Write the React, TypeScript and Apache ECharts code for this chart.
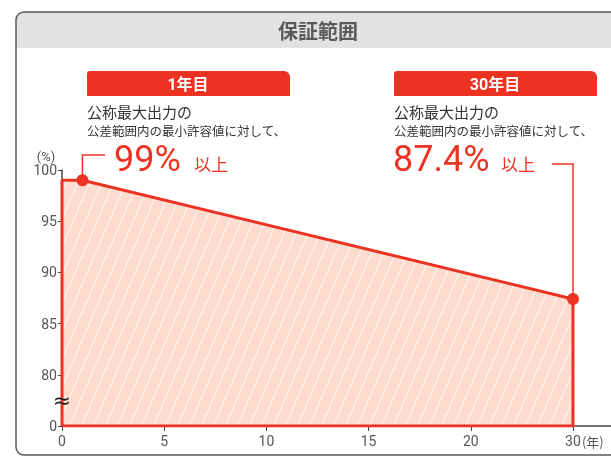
import React, { useEffect, useRef } from "react";
import * as echarts from "echarts";

const years = [0, 1, 30];
const guarantee = [99, 99, 87.4];
const breakBase = 75; // y-axis break: shown as 0
const xTickYears = [0, 5, 10, 15, 20, 30];
const title = "保証範囲";
const boxLabels = ["1年目", "30年目"];
const line1 = "公称最大出力の";
const line2 = "公差範囲内の最小許容値に対して、";
const suffix = "以上";

const RED = "#ec3323";
const FONT = "Roboto, 'Noto Sans CJK JP', sans-serif";
const JP = "'Noto Sans CJK JP', sans-serif";

// x axis is compressed after year 20 (20 → 30 takes one 5-year slot)
const toAxis = (y: number) => (y <= 20 ? y : 20 + (y - 20) / 2);
const fromAxis = (v: number) => (v <= 20 ? v : 20 + (v - 20) * 2);

function makePattern() {
  const w = 12, h = 28;
  const c = document.createElement("canvas");
  c.width = w;
  c.height = h;
  const ctx = c.getContext("2d")!;
  ctx.fillStyle = "#fddccf";
  ctx.fillRect(0, 0, w, h);
  ctx.strokeStyle = "rgba(255,255,255,0.85)";
  ctx.lineWidth = 1;
  for (const off of [-w, 0, w]) {
    ctx.beginPath();
    ctx.moveTo(off, h);
    ctx.lineTo(off + w, 0);
    ctx.stroke();
  }
  return { image: c, repeat: "repeat", imageWidth: w, imageHeight: h } as any;
}

export default function App() {
  const ref = useRef<HTMLDivElement>(null);
  useEffect(() => {
    const chart = echarts.init(ref.current!, null, { renderer: "svg" });
    const pts = years.map((x, i) => [toAxis(x), guarantee[i]]);
    const last = pts.length - 1;
    const xEnd = toAxis(years[last]);
    const outline = [[0, breakBase], ...pts, [xEnd, breakBase], [0, breakBase]];
    const xTicks = xTickYears.map(toAxis);
    chart.setOption({
      animation: false,
      grid: { left: 62, right: 0, top: 170, bottom: 30 },
      xAxis: {
        type: "value",
        min: 0,
        max: 26.86,
        axisLine: { lineStyle: { color: "#444", width: 1.5 } },
        axisTick: { show: true, customValues: xTicks, length: 5, lineStyle: { color: "#444" } },
        splitLine: { show: false },
        axisLabel: {
          customValues: xTicks,
          color: "#555",
          fontSize: 14,
          fontFamily: FONT,
          margin: 8,
          formatter: (v: number) => {
            const yr = Math.round(fromAxis(v));
            return yr === 30 ? "{s|}30{b|(年)}" : String(yr);
          },
          rich: {
            s: { width: 24 },
            b: { width: 24, fontSize: 13, color: "#555", fontFamily: JP },
          },
        },
      },
      yAxis: {
        type: "value",
        min: 75,
        max: 100,
        interval: 5,
        axisLine: { show: true, lineStyle: { color: "#444", width: 1.5 } },
        axisTick: { show: true, length: 4, lineStyle: { color: "#444" } },
        splitLine: { show: false },
        axisLabel: {
          color: "#555",
          fontSize: 14,
          fontFamily: FONT,
          margin: 5,
          formatter: (v: number) => (v === breakBase ? "0" : String(v)),
        },
      },
      series: [
        {
          type: "line",
          data: pts,
          symbol: "none",
          lineStyle: { width: 0 },
          areaStyle: { origin: "start", color: makePattern(), opacity: 1 },
          z: 1,
        },
        {
          type: "line",
          data: outline,
          symbol: "none",
          lineStyle: { color: RED, width: 3 },
          z: 3,
        },
        {
          type: "scatter",
          data: [pts[1], pts[last]],
          symbolSize: 12,
          itemStyle: { color: RED, opacity: 1 },
          z: 4,
        },
      ],
    });

    const p1 = chart.convertToPixel({ gridIndex: 0 }, pts[1]) as number[];
    const p2 = chart.convertToPixel({ gridIndex: 0 }, pts[last]) as number[];
    const brk = chart.convertToPixel({ gridIndex: 0 }, [0, 77.5]) as number[];

    const textEl = (x: number, y: number, text: string, style: any) => ({
      type: "text",
      x,
      y,
      style: { text, verticalAlign: "middle", ...style },
      z: 10,
    });

    chart.setOption({
      graphic: [
        {
          type: "rect",
          shape: { x: 16, y: 12, width: 640, height: 36, r: [8, 8, 0, 0] },
          style: { fill: "#e1e2e4" },
          z: 0,
        },
        {
          type: "rect",
          shape: { x: 16, y: 12, width: 640, height: 443, r: 8 },
          style: { fill: "none", stroke: "#5a5a5a", lineWidth: 1.5 },
          z: 1,
        },
        textEl(318, 30, title, { align: "center", fill: "#5a5a5a", fontSize: 20, fontWeight: "bold", fontFamily: JP }),
        // box 1
        {
          type: "rect",
          shape: { x: 87, y: 71, width: 203, height: 25, r: [3, 6, 0, 0] },
          style: { fill: RED },
          z: 5,
        },
        textEl(188, 84, boxLabels[0], { align: "center", fill: "#fff", fontSize: 16, fontWeight: "bold", fontFamily: FONT }),
        textEl(87, 111, line1, { fill: "#333", fontSize: 15, fontFamily: JP }),
        textEl(87, 130, line2, { fill: "#333", fontSize: 12.5, fontFamily: JP }),
        textEl(114, 159, `${guarantee[1]}%`, { fill: RED, fontSize: 36, fontFamily: FONT }),
        textEl(194, 163, suffix, { fill: RED, fontSize: 17, fontFamily: JP }),
        // box 2
        {
          type: "rect",
          shape: { x: 394, y: 71, width: 203, height: 25, r: [3, 6, 0, 0] },
          style: { fill: RED },
          z: 5,
        },
        textEl(495, 84, boxLabels[1], { align: "center", fill: "#fff", fontSize: 16, fontWeight: "bold", fontFamily: FONT }),
        textEl(394, 111, line1, { fill: "#333", fontSize: 15, fontFamily: JP }),
        textEl(394, 130, line2, { fill: "#333", fontSize: 12.5, fontFamily: JP }),
        textEl(393, 159, `${guarantee[last]}%`, { fill: RED, fontSize: 36, fontFamily: FONT }),
        textEl(501, 163, suffix, { fill: RED, fontSize: 17, fontFamily: JP }),
        // leaders
        {
          type: "polyline",
          shape: { points: [[p1[0], p1[1]], [p1[0], 155], [105, 155]] },
          style: { stroke: RED, lineWidth: 1.5, fill: "none" },
          z: 6,
        },
        {
          type: "polyline",
          shape: { points: [[552, 164], [p2[0], 164], [p2[0], p2[1]]] },
          style: { stroke: RED, lineWidth: 1.5, fill: "none" },
          z: 6,
        },
        textEl(46, 156, "(%)", { align: "center", fill: "#555", fontSize: 13, fontFamily: FONT }),
        textEl(brk[0], brk[1], "≈", { align: "center", fill: "#222", fontSize: 22, fontFamily: "DejaVu Sans" }),
      ],
    });
    return () => chart.dispose();
  }, []);
  return <div ref={ref} style={{ position: "fixed", left: 0, top: 0, width: 611, height: 456 }} />;
}
